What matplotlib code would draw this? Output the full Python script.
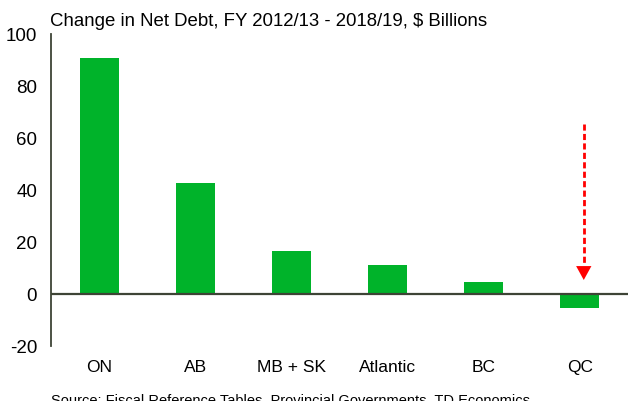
import matplotlib
matplotlib.use("Agg")
import matplotlib.pyplot as plt

plt.rcParams['font.family'] = ['Liberation Sans', 'DejaVu Sans']

# Change in net debt by province/region, $ billions
categories = ["ON", "AB", "MB + SK", "Atlantic", "BC", "QC"]
net_debt_change = [90.6, 42.4, 16.5, 11.1, 4.3, -5.7]
y_ticks = [-20, 0, 20, 40, 60, 80, 100]

# Callout arrow pointing down at Quebec
arrow_category = "QC"
arrow_start = 65.2
arrow_tip = 5.2
arrow_head_base = 10.8

title = "Change in Net Debt, FY 2012/13 - 2018/19, $ Billions"
source = "Source: Fiscal Reference Tables, Provincial Governments, TD Economics"

bar_color = "#00B32A"
axis_color = "#3E4436"

fig = plt.figure(figsize=(6.28, 4.02), dpi=100)
ax = fig.add_axes([51 / 628, 55.5 / 402, 577 / 628, 312 / 402])

x = list(range(len(categories)))
ax.bar(x, net_debt_change, width=0.405, color=bar_color, zorder=2)

ax.set_xlim(-0.5, len(categories) - 0.5)
ax.set_ylim(y_ticks[0], y_ticks[-1])
ax.set_yticks(y_ticks)
ax.set_yticklabels([str(t) for t in y_ticks])
ax.set_xticks(x)
ax.set_xticklabels(categories)

for s in ["top", "right", "bottom"]:
    ax.spines[s].set_visible(False)
ax.spines["left"].set_color(axis_color)
ax.spines["left"].set_linewidth(1.3)
ax.axhline(0, color=axis_color, linewidth=1.6, zorder=3)

ax.tick_params(axis="y", length=0, pad=10, labelsize=13.5)
ax.tick_params(axis="x", length=0, pad=10, labelsize=12.5)

# dashed arrow shaft and solid head
ax_x = categories.index(arrow_category) + 0.04
ax.plot([ax_x, ax_x], [arrow_start, arrow_head_base], color="red",
        linewidth=2, dashes=(2.2, 1.2), zorder=4)
ax.annotate("", xy=(ax_x, arrow_tip), xytext=(ax_x, arrow_head_base + 0.5),
            arrowprops=dict(arrowstyle="-|>,head_width=0.55,head_length=1.0",
                            color="red", linewidth=0.01, shrinkA=0, shrinkB=0),
            zorder=5)

fig.text(50 / 628, 1 - 26 / 402, title, fontsize=13.4, ha="left", va="baseline")
fig.text(51 / 628, -3.5 / 402, source, fontsize=10.5, ha="left", va="baseline")

fig.savefig("out.png", dpi=100)
